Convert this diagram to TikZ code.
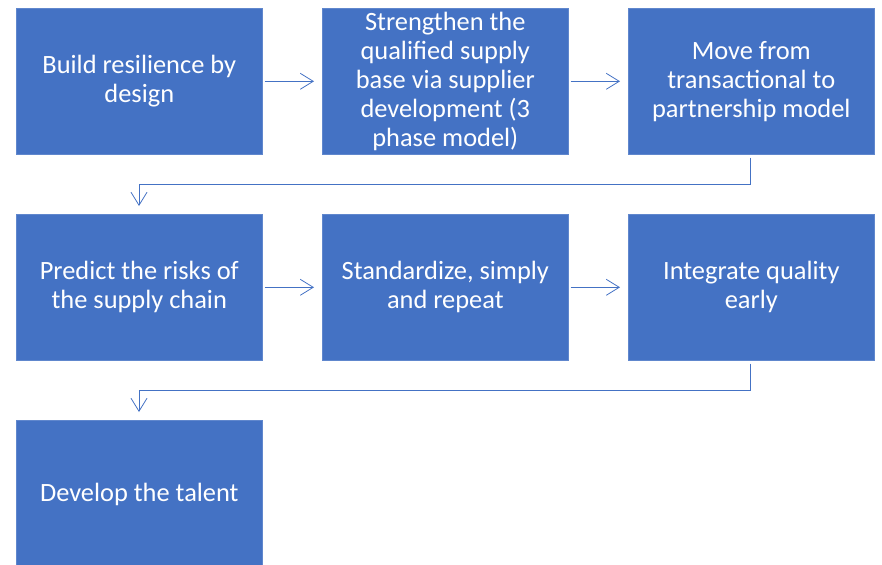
\documentclass[tikz,border=0pt]{standalone}
\usepackage{fontspec}
\setmainfont{Carlito}
\usetikzlibrary{arrows.meta}
\definecolor{boxblue}{HTML}{4472C4}
\tikzset{
  stepbox/.style={draw=boxblue!85!white, line width=0.6pt, fill=boxblue, text=white,
    minimum width=246pt, minimum height=146pt, inner sep=0pt, align=center,
    font=\fontsize{26.4}{29}\selectfont, anchor=north west},
  conn/.style={draw=boxblue, line width=0.8pt, -{Straight Barb[length=13pt,width=16pt,line width=0.8pt]}}
}
\begin{document}
\begin{tikzpicture}[x=1pt,y=-1pt]
\useasboundingbox (0,0) rectangle (882,564);
\node[stepbox] (b1) at (16,8) {Build resilience by\\design};
\node[stepbox] (b2) at (322,8) {Strengthen the\\qualified supply\\base via supplier\\development (3\\phase model)};
\node[stepbox] (b3) at (628,8) {Move from\\transactional to\\partnership model};
\node[stepbox] (b4) at (16,214) {Predict the risks of\\the supply chain};
\node[stepbox] (b5) at (322,214) {Standardize, simply\\and repeat};
\node[stepbox] (b6) at (628,214) {Integrate quality\\early};
\node[stepbox, minimum height=148pt] (b7) at (16,420) {Develop the talent};
\coordinate (c1) at (750,184);
\coordinate (c2) at (139,184);
\coordinate (c3) at (750,390);
\coordinate (c4) at (139,390);
\draw[conn] ([xshift=2pt]b1.east) -- ([xshift=-8pt]b2.west);
\draw[conn] ([xshift=2pt]b2.east) -- ([xshift=-8pt]b3.west);
\draw[conn] ([xshift=2pt]b4.east) -- ([xshift=-8pt]b5.west);
\draw[conn] ([xshift=2pt]b5.east) -- ([xshift=-8pt]b6.west);
\draw[conn] ([yshift=-3pt]b3.south -| c1) -- (c1) -- (c2) -- ([yshift=8pt]b4.north -| c2);
\draw[conn] ([yshift=-3pt]b6.south -| c3) -- (c3) -- (c4) -- ([yshift=8pt]b7.north -| c4);
\end{tikzpicture}
\end{document}
